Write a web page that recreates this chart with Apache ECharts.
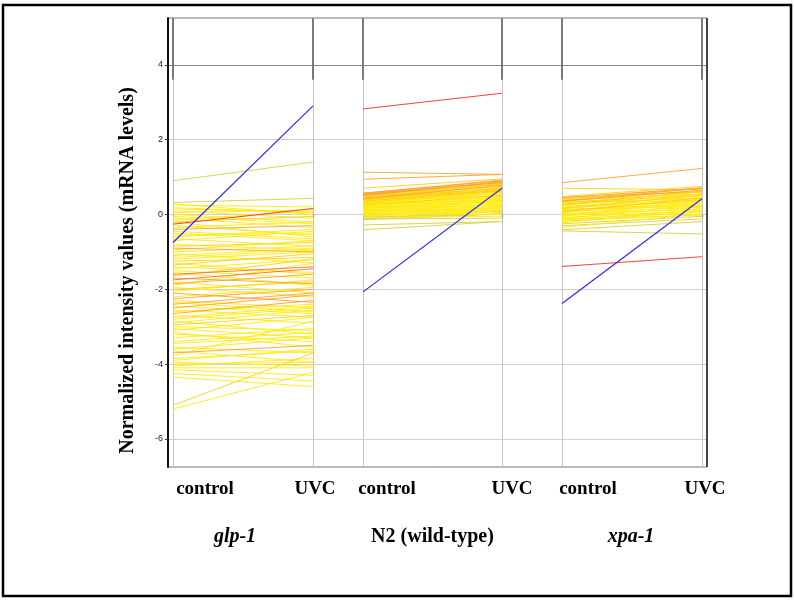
<!DOCTYPE html>
<html><head><meta charset="utf-8">
<script src="https://cdn.jsdelivr.net/npm/echarts@6/dist/echarts.min.js"></script>
<style>html,body{margin:0;padding:0;background:#fff}#c{width:794px;height:601px}</style>
</head><body><div id="c"></div>
<script>
// ---------- data ----------
const categories = ['control', 'UVC'];
const groupNames = ['glp-1', 'N2 (wild-type)', 'xpa-1'];
const yAxisTitle = 'Normalized intensity values (mRNA levels)';

const glpControl = [0.90,0.32,0.28,0.25,0.18,0.10,0.05,0.00,-0.10,-0.20,-0.20,-0.26,-0.30,-0.40,-0.50,-0.55,-0.65,-0.70,-0.85,-0.90,-0.95,-1.00,-1.05,-1.15,-1.25,-1.30,-1.35,-1.45,-1.55,-1.60,-1.70,-1.75,-1.80,-1.85,-1.90,-1.95,-2.00,-2.10,-2.20,-2.25,-2.30,-2.40,-2.50,-2.55,-2.60,-2.65,-2.70,-2.85,-2.90,-3.00,-3.10,-3.20,-3.30,-3.45,-3.55,-3.60,-3.70,-3.78,-3.85,-3.95,-4.05,-4.10,-4.25,-4.35,-5.10,-5.20,
  0.15,-0.05,-0.35,-0.60,-0.80,-1.10,-1.40,-1.65,-2.05,-2.35,-2.75,-3.05,-3.40,-3.65,-3.90,-4.15,-0.45,-1.20,-2.45,-2.95,-3.15,-1.50,-0.15,-2.80,-4.00];
const glpUVC = [1.40,0.43,0.00,0.20,0.05,-0.10,0.12,-0.20,-0.35,-0.05,-0.60,0.16,-0.55,-0.30,-0.70,-0.50,-0.85,-0.45,-0.75,-1.00,-0.70,-0.85,-1.30,-0.95,-1.15,-1.60,-1.05,-1.20,-1.90,-1.40,-1.85,-1.45,-2.10,-1.60,-1.30,-2.20,-1.80,-2.35,-1.95,-2.00,-2.50,-2.10,-2.15,-2.75,-2.40,-2.30,-2.90,-3.20,-2.55,-3.10,-2.75,-3.40,-3.05,-3.25,-3.70,-3.30,-3.50,-2.85,-3.65,-4.05,-3.85,-4.10,-4.45,-4.60,-3.70,-4.22,
  0.05,-0.25,-0.20,-0.40,-0.95,-0.90,-1.55,-1.20,-1.75,-2.60,-2.45,-3.30,-3.15,-3.95,-3.60,-4.30,-0.65,-1.00,-2.65,-2.70,-3.55,-1.70,0.10,-2.50,-3.95];
const glpLevel = [0,0,1,1,1,1,1,1,1,2,1,5,1,3,1,1,1,1,2,3,1,1,1,1,2,1,2,1,1,4,3,4,1,3,1,1,2,3,1,3,1,3,3,1,1,3,1,1,1,1,1,1,1,1,1,1,3,1,1,1,1,1,1,1,2,1,
  1,1,1,1,1,1,1,2,1,1,1,1,1,1,1,1,1,1,1,2,1,1,1,1,1];

const n2Control = [2.82,1.13,0.94,0.70,0.57,0.55,0.52,0.50,0.48,0.46,0.45,0.43,0.42,0.40,0.38,0.37,0.35,0.33,0.32,0.30,0.28,0.27,0.25,0.23,0.22,0.20,0.18,0.17,0.15,0.13,0.12,0.10,0.08,0.06,0.05,0.03,0.00,-0.02,-0.05,-0.08,-0.10,-0.12,-0.14,-0.28,-0.41,
  0.56,0.53,0.49,0.44,0.41,0.36,0.31,0.26,0.21,0.16,0.11,0.07,0.02,-0.03,-0.07,0.47,0.39,0.29,0.19,0.09];
const n2UVC = [3.24,1.07,1.07,0.95,0.90,0.85,0.80,0.88,0.75,0.70,0.82,0.65,0.78,0.60,0.72,0.55,0.68,0.50,0.62,0.45,0.58,0.40,0.52,0.35,0.48,0.30,0.44,0.25,0.38,0.20,0.33,0.15,0.28,0.10,0.22,0.05,0.18,0.00,0.12,-0.05,0.08,-0.10,0.02,-0.19,-0.19,
  0.92,0.86,0.83,0.76,0.70,0.64,0.57,0.47,0.42,0.36,0.26,0.18,0.10,0.06,0.00,0.62,0.50,0.36,0.24,0.12];
const n2Level = [5,3,3,2,3,3,2,3,2,2,2,2,3,1,2,1,2,1,2,1,1,1,2,1,1,1,1,1,1,1,1,1,1,1,1,1,1,1,0,1,0,0,0,0,0,
  3,3,2,2,2,2,1,1,1,1,1,1,1,1,0,2,1,1,1,1];

const xpaControl = [0.85,0.70,0.48,0.45,0.42,0.40,0.38,0.35,0.33,0.30,0.28,0.25,0.22,0.20,0.18,0.15,0.12,0.10,0.08,0.05,0.02,0.00,-0.02,-0.05,-0.08,-0.10,-0.12,-0.15,-0.18,-0.20,-0.25,-0.30,-0.35,-0.41,-0.44,-1.39,
  0.46,0.36,0.26,0.16,0.06,-0.04,0.32,0.14,-0.14,-0.22];
const xpaUVC = [1.23,0.66,0.75,0.70,0.62,0.72,0.55,0.65,0.50,0.60,0.45,0.55,0.40,0.50,0.35,0.45,0.30,0.40,0.25,0.35,0.20,0.30,0.15,0.25,0.10,0.20,0.05,0.12,0.00,0.08,-0.05,-0.12,0.02,-0.19,-0.52,-1.13,
  0.60,0.70,0.62,0.52,0.45,0.38,0.42,0.22,-0.02,0.15];
const xpaLevel = [3,2,2,3,2,2,1,3,1,2,1,2,1,1,1,1,1,2,1,1,1,1,1,1,1,1,1,1,1,1,0,0,1,0,0,5,
  2,3,2,2,2,1,1,1,1,1];

// highlighted gene (blue) in each strain
const highlightControl = [-0.75, -2.07, -2.38];
const highlightUVC = [2.90, 0.70, 0.42];

// ---------- layout / style ----------
const levelColors = ['#d8cf3e','#ffea10','#ffd010','#ffa030','#ff6a30','#ff2828'];
const Y_MIN = -6.75, Y_MAX = 5.25;
const panels = [
  {left:173, width:140, ctrl:glpControl, uvc:glpUVC, lvl:glpLevel, italic:true,  nameShift:-8, shift:[32,2]},
  {left:363, width:139, ctrl:n2Control,  uvc:n2UVC,  lvl:n2Level,  italic:false, nameShift:0,  shift:[24,10]},
  {left:562, width:140, ctrl:xpaControl, uvc:xpaUVC, lvl:xpaLevel, italic:true,  nameShift:-1, shift:[26,3]}
];
const serif = '"Liberation Serif", "Times New Roman", serif';

function pad(s){ return s >= 0 ? [0,0,0,2*s] : [0,-2*s,0,0]; }

const grids = [{left:168, top:18, width:539, height:449, show:true, borderColor:'#777', borderWidth:1}];
const xAxes = [{gridIndex:0, type:'value', min:0, max:1, show:false}];
const yAxes = [{
  gridIndex:0, type:'value', min:Y_MIN, max:Y_MAX, splitNumber:6,
  name: yAxisTitle, nameLocation:'middle', nameGap:30, nameRotate:90,
  nameTextStyle:{fontFamily:serif, fontWeight:'bold', fontSize:20, color:'#000', padding:[0,56,0,0]},
  axisLine:{show:true, lineStyle:{color:'#111', width:2}},
  axisTick:{show:true, length:3, lineStyle:{color:'#333'}},
  axisLabel:{fontSize:9, color:'#222', margin:5, showMinLabel:false, showMaxLabel:false, fontFamily:'"Liberation Sans", Arial, sans-serif'},
  splitLine:{show:true, showMinLine:false, showMaxLine:false,
    lineStyle:{color:['#d0d0d0','#d0d0d0','#d0d0d0','#d0d0d0','#d0d0d0','#858585'], width:1}}
}];
const series = [];

panels.forEach((p, i) => {
  grids.push({left:p.left, top:18, width:p.width, height:449});
  xAxes.push({
    gridIndex:i+1, type:'category', boundaryGap:false,
    data: categories.map((c, j) => ({value:c, textStyle:{padding: pad(p.shift[j])}})),
    axisLine:{show:false},
    axisTick:{show:true, length:3, lineStyle:{color:'#888'}},
    axisLabel:{fontFamily:serif, fontWeight:'bold', fontSize:19, color:'#000', margin:13, interval:0},
    splitLine:{show:true, lineStyle:{color:'#c4c4c4', width:1}},
    name: groupNames[i], nameLocation:'middle', nameGap:60,
    nameTextStyle:{fontFamily:serif, fontWeight:'bold', fontStyle:p.italic?'italic':'normal', fontSize:20, color:'#000', padding: pad(p.nameShift)}
  });
  yAxes.push({gridIndex:i+1, type:'value', min:Y_MIN, max:Y_MAX, show:false});
  p.ctrl.forEach((c, k) => {
    series.push({
      type:'line', xAxisIndex:i+1, yAxisIndex:i+1, data:[c, p.uvc[k]],
      symbol:'none', silent:true, animation:false, z: 2 + p.lvl[k],
      lineStyle:{color: levelColors[p.lvl[k]], width:1, opacity:0.9}
    });
  });
  series.push({
    type:'line', xAxisIndex:i+1, yAxisIndex:i+1, data:[highlightControl[i], highlightUVC[i]],
    symbol:'none', silent:true, animation:false, z: 10,
    lineStyle:{color:'#2a2aff', width:1.2}
  });
});

const chart = echarts.init(document.getElementById('c'), null, {renderer:'canvas'});
chart.setOption({
  animation:false,
  backgroundColor:'#fff',
  grid: grids, xAxis: xAxes, yAxis: yAxes, series: series
});

// decorative frame pieces placed through the axes' own scales
const topY = chart.convertToPixel({yAxisIndex:0}, Y_MAX);
const bandY = chart.convertToPixel({yAxisIndex:0}, 3.6);
const graphics = [{
  type:'rect', z:100, silent:true,
  shape:{x:3, y:5, width:788, height:591},
  style:{fill:'none', stroke:'#000', lineWidth:2.5}
}];
panels.forEach((p, i) => {
  categories.forEach(c => {
    const x = chart.convertToPixel({xAxisIndex:i+1}, c);
    graphics.push({type:'line', z:50, silent:true, shape:{x1:x, y1:topY, x2:x, y2:bandY}, style:{stroke:'#7a7a7a', lineWidth:2}});
  });
});
const rightX = chart.convertToPixel({xAxisIndex:0}, 1);
const botY = chart.convertToPixel({yAxisIndex:0}, Y_MIN);
graphics.push({type:'line', z:50, silent:true, shape:{x1:rightX, y1:topY, x2:rightX, y2:botY}, style:{stroke:'#444', lineWidth:2}});
chart.setOption({graphic: graphics});
</script>
</body></html>
